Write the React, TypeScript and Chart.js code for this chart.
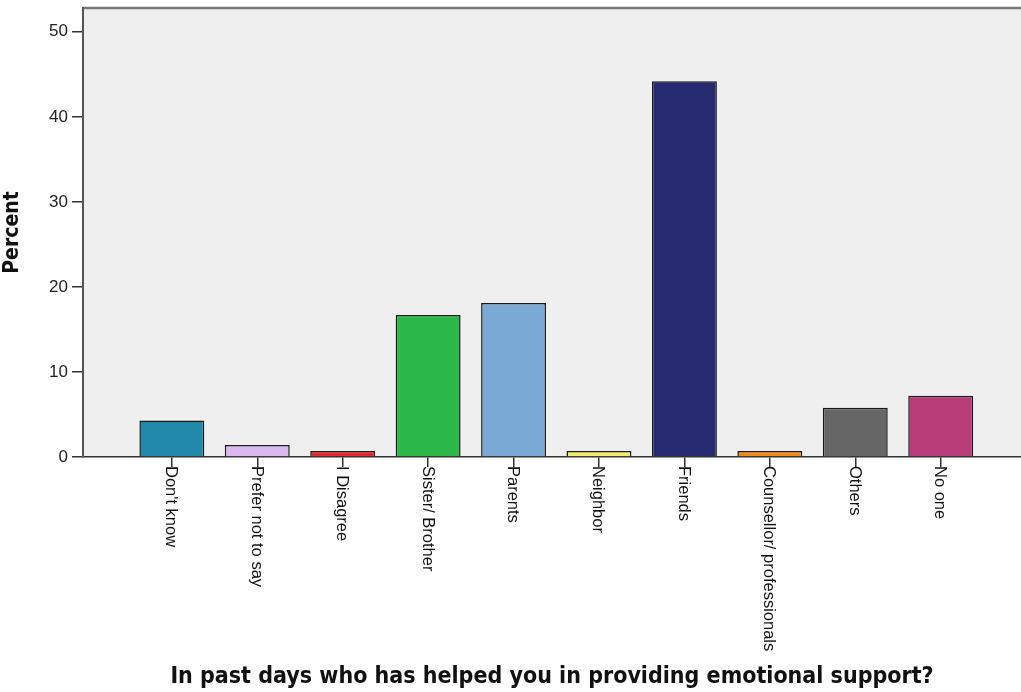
import React, { useEffect, useRef } from "react";
import { Chart, registerables } from "chart.js";

Chart.register(...registerables);

const categories = [
  "Don't know",
  "Prefer not to say",
  "I Disagree",
  "Sister/ Brother",
  "Parents",
  "Neighbor",
  "Friends",
  "Counsellor/ professionals",
  "Others",
  "No one",
];
const percents = [4.3, 1.4, 0.7, 16.7, 18.1, 0.7, 44.2, 0.7, 5.8, 7.2];
const barColors = [
  "#2389ab",
  "#dcb8f0",
  "#e8262c",
  "#2db84a",
  "#7aa9d6",
  "#f2f06a",
  "#262a70",
  "#f08c1c",
  "#666666",
  "#b83c78",
];
const yTitle = "Percent";
const xTitle = "In past days who has helped you in providing emotional support?";

const plotFrame = {
  id: "plotFrame",
  beforeDraw(chart: any) {
    const { ctx, chartArea } = chart;
    const { left, top, right, bottom } = chartArea;
    ctx.save();
    ctx.fillStyle = "#efefef";
    ctx.fillRect(left, top, right - left, bottom - top);
    ctx.strokeStyle = "#7a7a7a";
    ctx.lineWidth = 2.5;
    ctx.beginPath();
    ctx.moveTo(left, top);
    ctx.lineTo(right, top);
    ctx.stroke();
    ctx.restore();
  },
  afterDraw(chart: any) {
    const { ctx } = chart;
    const xs = chart.scales.x;
    ctx.save();
    ctx.font = '16.5px "Liberation Sans", Arial, sans-serif';
    ctx.fillStyle = "#111";
    ctx.textAlign = "left";
    ctx.textBaseline = "middle";
    categories.forEach((label, i) => {
      const x = xs.getPixelForValue(i);
      ctx.save();
      ctx.translate(x - 1, xs.top + 9);
      ctx.rotate(Math.PI / 2);
      ctx.fillText(label, 0, 0);
      ctx.restore();
    });
    ctx.restore();
  },
};

export default function App() {
  const ref = useRef<HTMLCanvasElement | null>(null);

  useEffect(() => {
    if (!ref.current) return;
    const chart = new Chart(ref.current, {
      type: "bar",
      data: {
        datasets: [
          {
            data: percents.map((v, i) => ({ x: i, y: v })),
            backgroundColor: barColors,
            borderColor: "#1a1a1a",
            borderWidth: 1.5,
            barPercentage: 0.76,
            categoryPercentage: 1,
          },
        ],
      },
      options: {
        animation: false,
        responsive: true,
        maintainAspectRatio: false,
        devicePixelRatio: 1,
        layout: { padding: { top: 8, left: 0, right: 0, bottom: 0 } },
        plugins: { legend: { display: false }, tooltip: { enabled: false } },
        scales: {
          x: {
            type: "linear",
            offset: false,
            min: -1.04,
            max: 9.94,
            afterBuildTicks: (s: any) => {
              s.ticks = categories.map((_, i) => ({ value: i }));
            },
            afterFit: (s: any) => {
              s.height = 235;
              s.paddingLeft = 0;
              s.paddingRight = 0;
            },
            ticks: { display: false },
            grid: {
              offset: false,
              drawOnChartArea: false,
              drawTicks: true,
              tickLength: 10,
              color: "#333",
              lineWidth: 1.5,
            },
            border: { display: true, color: "#333", width: 1.5 },
            title: {
              display: true,
              text: xTitle,
              color: "#111",
              font: { family: "'DejaVu Sans Condensed', 'Liberation Sans', sans-serif", size: 23, weight: "bold" },
              padding: { top: 0, bottom: 1 },
            },
          },
          y: {
            min: 0,
            max: 52.8,
            afterFit: (s: any) => {
              s.width = 83;
              s.paddingTop = 0;
              s.paddingBottom = 0;
            },
            ticks: {
              stepSize: 10,
              includeBounds: false,
              color: "#222",
              padding: 4,
              font: { family: "'Liberation Sans', Arial, sans-serif", size: 17 },
            },
            grid: {
              drawOnChartArea: false,
              drawTicks: true,
              tickLength: 11,
              color: "#333",
              lineWidth: 1.5,
            },
            border: { display: true, color: "#555", width: 2 },
            title: {
              display: true,
              text: yTitle,
              color: "#111",
              font: { family: "'DejaVu Sans Condensed', 'Liberation Sans', sans-serif", size: 21, weight: "bold" },
              padding: { top: 0, bottom: 0 },
            },
          },
        },
      },
      plugins: [plotFrame],
    } as any);
    return () => chart.destroy();
  }, []);

  return (
    <div
      style={{
        position: "fixed",
        left: 0,
        top: 0,
        width: 1021,
        height: 692,
        background: "#fff",
      }}
    >
      <canvas ref={ref} />
    </div>
  );
}
